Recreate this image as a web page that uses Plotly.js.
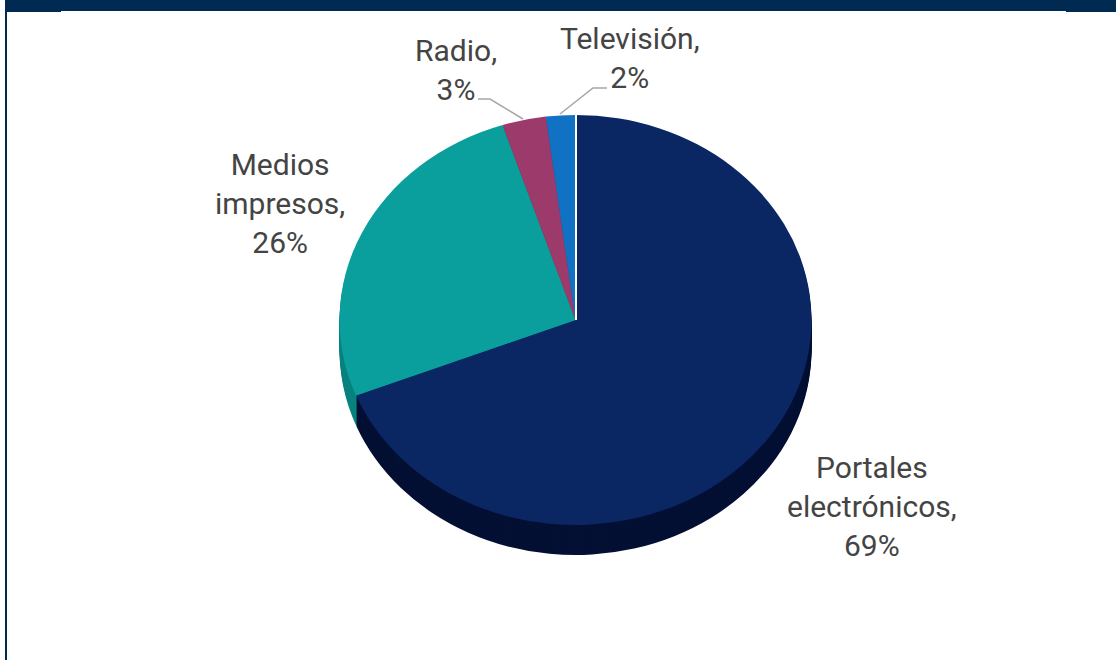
<!DOCTYPE html>
<html>
<head>
<meta charset="utf-8">
<script src="https://cdn.plot.ly/plotly-3.0.1.min.js"></script>
<style>
html,body{margin:0;padding:0;background:#ffffff;}
#chart{width:1116px;height:660px;}
</style>
</head>
<body>
<div id="chart"></div>
<script>
// ---- data ----
const categories = ['Portales electrónicos', 'Medios impresos', 'Radio', 'Televisión'];
const shares = [69, 26, 3, 2];
const topColors = ['#0A2663', '#0A9F9C', '#9C3A6B', '#1172C3'];
const sideColors = ['#030F33', '#08827F', '#6E284B', '#0B5290'];

// ---- geometry / style ----
const W = 1116, H = 660;
const CX = 575.5, CY = 320, R = 236, RY = 205, DEPTH = 30;
const K = RY / R;
const px = x => x / W;
const py = y => 1 - y / H;
const pieDomain = { x: [px(CX - R), px(CX + R)], y: [py(CY + R), py(CY - R)] };

function pieTrace(colors) {
  return {
    type: 'pie',
    labels: categories,
    values: shares,
    sort: false,
    direction: 'clockwise',
    rotation: 0,
    textinfo: 'none',
    hoverinfo: 'skip',
    showlegend: false,
    domain: pieDomain,
    marker: { colors: colors, line: { width: 0 } }
  };
}

const offsets = [];
for (let o = DEPTH; o > 0; o -= 2) offsets.push(o);
const data = offsets.map(() => pieTrace(sideColors));
data.push(pieTrace(topColors));
offsets.push(0);

// labels built from data
const labelPos = [[872, 506], [280, 203], [456, 70], [630, 58]];
const annotations = categories.map((c, i) => ({
  xref: 'paper', yref: 'paper',
  x: px(labelPos[i][0]), y: py(labelPos[i][1]),
  xanchor: 'center', yanchor: 'middle',
  showarrow: false, align: 'center',
  text: c.replace(' ', '<br>') + ',<br>' + shares[i] + '%',
  font: { family: 'Roboto, sans-serif', size: 30, color: '#444444' }
}));

function pathOf(pts) {
  return pts.map((p, i) => (i ? 'L' : 'M') + px(p[0]) + ',' + py(p[1])).join(' ');
}
const band = '#002A52';
const shapes = [
  { type: 'rect', xref: 'paper', yref: 'paper', x0: px(5), x1: px(W), y0: py(11), y1: py(0), fillcolor: band, line: { width: 0 } },
  { type: 'rect', xref: 'paper', yref: 'paper', x0: px(5), x1: px(61), y0: py(12), y1: py(10), fillcolor: band, line: { width: 0 } },
  { type: 'rect', xref: 'paper', yref: 'paper', x0: px(1066), x1: px(W), y0: py(12), y1: py(10), fillcolor: band, line: { width: 0 } },
  { type: 'rect', xref: 'paper', yref: 'paper', x0: px(5), x1: px(7), y0: py(H), y1: py(0), fillcolor: band, line: { width: 0 } },
  { type: 'path', xref: 'paper', yref: 'paper', path: pathOf([[478, 99], [490, 99], [523, 119]]), line: { color: '#A6A6A6', width: 1.5 } },
  { type: 'path', xref: 'paper', yref: 'paper', path: pathOf([[560, 114], [593, 88], [607, 88]]), line: { color: '#A6A6A6', width: 1.5 } },
  { type: 'path', xref: 'paper', yref: 'paper', path: pathOf([[CX + 0.5, CY - RY - 1], [CX + 0.5, CY]]), line: { color: '#ffffff', width: 2 } }
];

const layout = {
  width: W, height: H,
  margin: { l: 0, r: 0, t: 0, b: 0, pad: 0 },
  paper_bgcolor: '#ffffff',
  plot_bgcolor: '#ffffff',
  showlegend: false,
  font: { family: 'Roboto, sans-serif', color: '#444444' },
  annotations: annotations,
  shapes: shapes
};

const gd = document.getElementById('chart');
Plotly.newPlot(gd, data, layout, { staticPlot: true, displayModeBar: false, responsive: false }).then(() => {
  const groups = gd.querySelectorAll('.pielayer .trace');
  groups.forEach((g, i) => {
    let cy = CY;
    try { if (gd.calcdata[i] && gd.calcdata[i][0].cy != null) cy = gd.calcdata[i][0].cy; } catch (e) {}
    const o = offsets[i] || 0;
    g.setAttribute('transform', 'translate(0,' + (cy * (1 - K) + o) + ') scale(1,' + K + ')');
  });
});
</script>
</body>
</html>
